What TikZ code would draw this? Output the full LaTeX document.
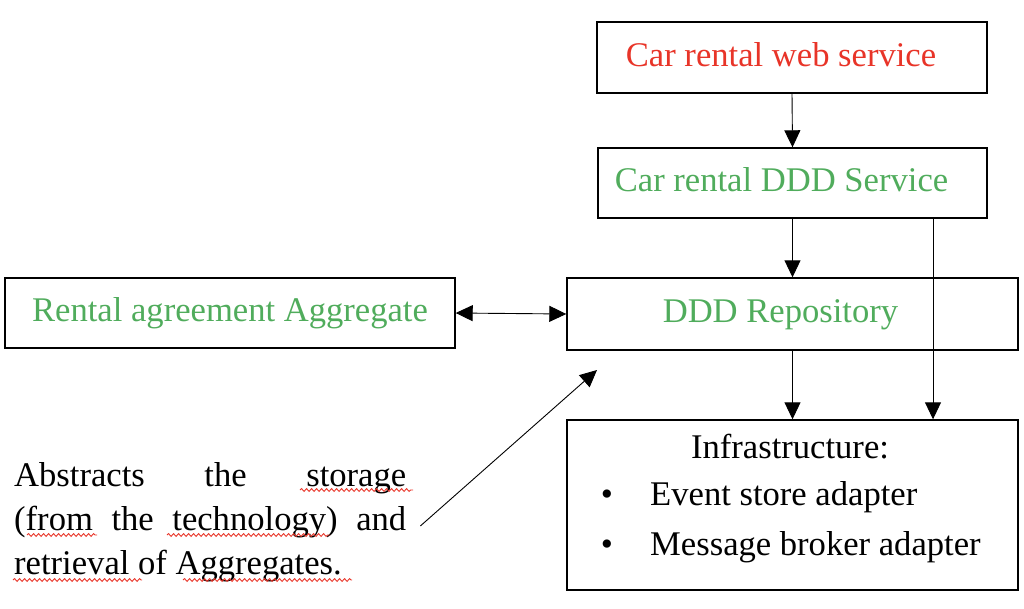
\documentclass[tikz,border=0pt]{standalone}
\usepackage{fontspec}
\setmainfont{Liberation Serif}
\usetikzlibrary{arrows.meta,positioning,calc,decorations.pathmorphing}
\definecolor{svcred}{RGB}{232,52,40}
\definecolor{dddgreen}{RGB}{80,172,92}
\tikzset{
  box/.style   = { draw, line width=1.4pt, rectangle, inner sep=0pt,
    text height=24pt, text depth=7pt,
    font=\fontsize{34.6}{40}\selectfont },
  txt/.style   = { inner sep=0pt, font=\fontsize{34.6}{40}\selectfont },
  arr/.style   = { line width=0.9pt, -{Triangle[length=17pt,width=16pt]} },
  darr/.style  = { line width=0.9pt, {Triangle[length=17pt,width=16pt]}-{Triangle[length=17pt,width=16pt]} },
  wavy/.style  = { draw=svcred, line width=0.9pt, decorate,
    decoration={snake, amplitude=1.4pt, segment length=5pt} }
}

\begin{document}
\begin{tikzpicture}[x=1pt,y=-1pt]
    \useasboundingbox (0,0) rectangle (1024,608);
    % boxes
    \node[box, minimum width=390pt, minimum height=71pt, text=svcred] (web) at (792,57.5) {Car rental web service\hspace*{22pt}};
    \node[box, minimum width=389pt, minimum height=70pt, text=dddgreen] (svc) at (792.5,183) {Car rental DDD Service\hspace*{22pt}};
    \node[box, minimum width=450pt, minimum height=70pt, text=dddgreen] (agg) at (230,313) {Rental agreement Aggregate};
    \node[box, minimum width=451pt, minimum height=72pt, text=dddgreen] (repo) at (792.5,314) {DDD Repository\hspace*{24pt}};
    \node[box, minimum width=451pt, minimum height=170pt] (infra) at (792.5,505) {};

    % infrastructure contents
    \node[txt, anchor=base] (ititle) at (790,458) {Infrastructure:};
    \node[txt, anchor=base] (b1) at (607,505) {\textbullet};
    \node[txt, anchor=base west] (esa) at (650,505) {Event store adapter};
    \node[txt, anchor=base] (b2) at (607,555) {\textbullet};
    \node[txt, anchor=base west] (mba) at (650,555) {Message broker adapter};

    % note
    \node[txt, anchor=north west, text width=392pt, align=justify,
      font=\fontsize{34.6}{44}\selectfont] (note) at (14,462)
      {Abstracts the storage\linebreak (from the technology) and\linebreak retrieval of Aggregates.};
    \coordinate (ptr) at (597,370);

    \path[wavy] (300,490) -- (413,490);
    \path[wavy] (27,535) -- (97,535);
    \path[wavy] (167,535) -- (330,535);
    \path[wavy] (13,580) -- (142,580);
    \path[wavy] (183,580) -- (352,580);

    % connectors
    \draw[arr] (web.south) -- (svc.north);
    \draw[arr] (svc.south) -- (repo.north);
    \draw[arr] ([xshift=140.5pt]svc.south) -- ([xshift=140.5pt]svc.south |- infra.north);
    \draw[arr] (repo.south) -- (infra.north);
    \draw[darr] (agg.east) -- (repo.west);
    \draw[arr] ([xshift=14pt,yshift=-4pt]note.east) -- (ptr);
\end{tikzpicture}
\end{document}
